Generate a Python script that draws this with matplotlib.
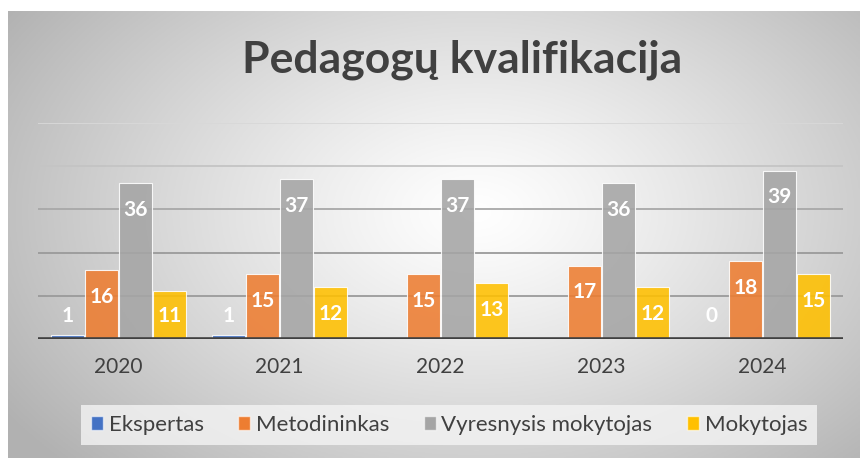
import numpy as np
import matplotlib.pyplot as plt
from matplotlib.patches import Patch

plt.rcParams['font.family'] = ['Lato', 'DejaVu Sans']

years = ['2020', '2021', '2022', '2023', '2024']
ekspertas = [1, 1, None, None, 0]
metodininkas = [16, 15, 15, 17, 18]
vyresnysis = [36, 37, 37, 36, 39]
mokytojas = [11, 12, 13, 12, 15]

series = [
    ('Ekspertas', ekspertas, '#4472c4'),
    ('Metodininkas', metodininkas, '#ed7d31'),
    ('Vyresnysis mokytojas', vyresnysis, '#a5a5a5'),
    ('Mokytojas', mokytojas, '#ffc000'),
]

fig = plt.figure(figsize=(8.6, 4.58), dpi=100)

# radial gray gradient behind the chart
bg = fig.add_axes([8 / 860, 0, 1 - 8 / 860, 1 - 11 / 458], zorder=-10)
gx, gy = np.meshgrid(np.linspace(0, 1, 400), np.linspace(0, 1, 220))
d = np.sqrt(((gx - 0.55) / 0.6) ** 2 + ((gy - 0.45) / 0.75) ** 2)
shade = 1 - 0.27 * np.clip(d, 0, 1.1) ** 1.2
bg.imshow(np.dstack([shade] * 3), aspect='auto', extent=[0, 1, 0, 1])
bg.axis('off')

ax = fig.add_axes([38 / 860, 1 - 339 / 458, (843 - 38) / 860, (339 - 123) / 458])
ax.patch.set_alpha(0)

x = np.arange(len(years))
w = 0.205
grid_cols = {10: '#9a9a9a', 20: '#9a9a9a', 30: '#a8a8a8', 40: '#c4c4c4', 50: '#d8d8d8'}
for g, c in grid_cols.items():
    ax.axhline(g, color=c, lw=1.3, zorder=0)

for i, (name, vals, col) in enumerate(series):
    xs = x + (i - 1.5) * (w + 0.007)
    v = np.array([np.nan if a is None else a for a in vals], dtype=float)
    ax.bar(xs, np.nan_to_num(v), width=w, color=col, alpha=0.88,
           edgecolor=(1, 1, 1, 0.6), lw=0.8, zorder=2)
    for xi, vi in zip(xs, v):
        if np.isnan(vi):
            continue
        ax.text(xi, max(vi - 6.2, 5.3), f'{vi:.0f}', ha='center', va='center',
                color='white', fontsize=15, fontweight='bold', zorder=3)

ax.axhline(0, color='#404040', lw=2.6, zorder=4)
ax.set_xlim(-0.5, len(years) - 0.5)
ax.set_ylim(0, 50)
ax.set_yticks([])
ax.set_xticks(x)
ax.set_xticklabels(years, fontsize=15, color='#404040')
ax.tick_params(axis='x', length=0, pad=13)
for s in ax.spines.values():
    s.set_visible(False)

fig.text(0.537, 1 - 60 / 458, 'Pedagogų kvalifikacija', ha='center', va='center',
         fontsize=32, fontweight='bold', color='#404040')

handles = [Patch(facecolor=c, edgecolor=(1, 1, 1, 0.6), label=n) for n, _, c in series]
leg = fig.legend(handles=handles, loc='center', bbox_to_anchor=(449 / 860, 1 - 425 / 458),
                 ncol=4, frameon=True, fontsize=16, handlelength=0.55, handleheight=0.6,
                 handletextpad=0.25, columnspacing=1.55, borderpad=0.45, labelcolor='#404040')
leg.get_frame().set_facecolor('#f4f4f4')
leg.get_frame().set_alpha(0.8)
leg.get_frame().set_edgecolor('none')
leg.get_frame().set_boxstyle('square', pad=0)

fig.savefig('out.png', dpi=100)
